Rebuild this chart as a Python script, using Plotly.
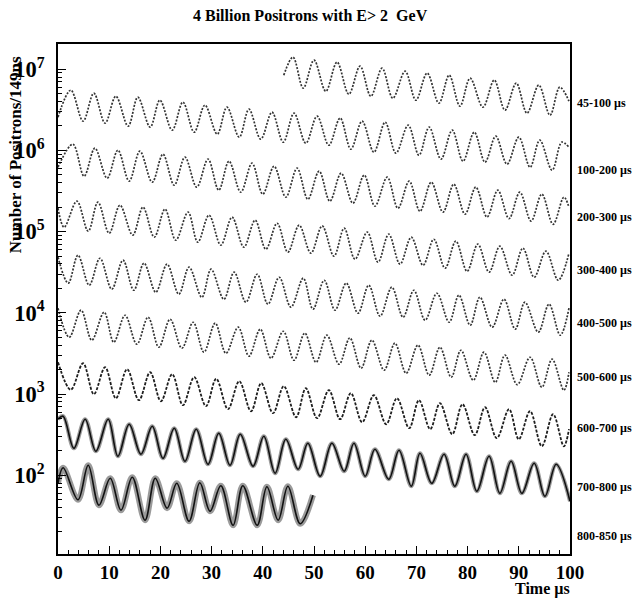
import numpy as np
import plotly.graph_objects as go

# ---- data: extrema of each time window (t in µs, log10 of counts) ----
row_labels = ["45-100 µs", "100-200 µs", "200-300 µs", "300-400 µs", "400-500 µs",
              "500-600 µs", "600-700 µs", "700-800 µs", "800-850 µs"]
label_log_level = [6.581, 5.756, 5.177, 4.525, 3.872, 3.207, 2.579, 1.852, 1.249]

t_45_100 = [44.1, 45.9, 47.9, 50.0, 52.3, 54.5, 56.8, 59.0, 61.1, 63.3, 65.4, 67.8, 69.9, 72.1, 74.4, 76.4,
            78.5, 80.5, 83.0, 85.2, 87.3, 89.5, 91.6, 93.9, 96.1, 98.0, 99.8]
logN_45_100 = [6.926, 7.148, 6.766, 7.111, 6.729, 7.086, 6.692, 7.037, 6.667, 7.012, 6.643, 6.975, 6.618, 6.951,
               6.581, 6.926, 6.544, 6.889, 6.532, 6.865, 6.495, 6.828, 6.458, 6.803, 6.433, 6.778, 6.606]

t_100_200 = [0.0, 2.5, 4.9, 7.0, 9.2, 11.3, 13.7, 15.6, 18.0, 19.9, 22.3, 24.4, 26.6, 28.7, 31.1, 33.0, 35.4,
             37.3, 39.6, 41.8, 44.0, 46.1, 48.4, 50.6, 52.9, 55.1, 57.2, 59.4, 61.7, 63.9, 66.0, 68.4, 70.5,
             72.5, 74.8, 77.0, 79.1, 81.3, 83.4, 85.5, 87.7, 90.0, 92.2, 94.1, 96.5, 98.4, 99.8]
logN_100_200 = [6.409, 6.741, 6.360, 6.704, 6.335, 6.667, 6.298, 6.655, 6.286, 6.618, 6.249, 6.594, 6.224,
                6.557, 6.200, 6.532, 6.163, 6.507, 6.138, 6.470, 6.101, 6.458, 6.089, 6.421, 6.064, 6.397,
                6.015, 6.360, 5.978, 6.347, 5.966, 6.310, 5.941, 6.286, 5.892, 6.249, 5.867, 6.224, 5.855,
                6.175, 5.830, 6.163, 5.793, 6.126, 5.756, 6.101, 6.039]

t_200_300 = [0.0, 2.9, 5.1, 7.2, 9.6, 11.7, 13.9, 16.0, 18.4, 20.5, 22.7, 24.8, 27.1, 29.3, 31.4, 33.4, 35.7,
             37.9, 40.0, 42.2, 44.5, 46.7, 48.8, 51.0, 53.1, 55.3, 57.6, 59.8, 61.9, 64.3, 66.4, 68.6, 70.7,
             72.9, 75.2, 77.3, 79.5, 81.6, 83.8, 85.9, 88.1, 90.2, 92.4, 94.5, 96.7, 98.8, 99.8]
logN_200_300 = [5.793, 6.076, 5.682, 6.027, 5.658, 6.002, 5.621, 5.990, 5.608, 5.953, 5.571, 5.916, 5.547,
                5.892, 5.510, 5.867, 5.485, 5.842, 5.461, 5.805, 5.424, 5.781, 5.399, 5.744, 5.374, 5.719,
                5.350, 5.695, 5.313, 5.670, 5.288, 5.621, 5.250, 5.608, 5.239, 5.584, 5.214, 5.547, 5.180,
                5.510, 5.160, 5.485, 5.130, 5.461, 5.090, 5.424, 5.300]

t_300_400 = [0.0, 1.2, 3.7, 5.9, 7.8, 10.0, 12.1, 14.6, 16.6, 18.8, 20.9, 23.0, 25.4, 27.3, 29.5, 31.8, 34.0,
             36.3, 38.5, 40.6, 42.8, 44.9, 47.1, 49.4, 51.6, 53.9, 55.9, 58.0, 60.4, 62.5, 64.6, 66.8, 69.0,
             71.3, 73.4, 75.6, 77.7, 79.9, 82.0, 84.2, 86.3, 88.7, 90.8, 93.0, 95.3, 97.7, 99.8]
logN_300_400 = [5.288, 5.054, 5.374, 5.005, 5.362, 4.980, 5.325, 4.956, 5.300, 4.931, 5.276, 4.894, 5.239,
                4.869, 5.202, 4.833, 5.177, 4.808, 5.140, 4.783, 5.103, 4.746, 5.079, 4.734, 5.070, 4.697,
                5.042, 4.660, 4.993, 4.623, 4.968, 4.599, 4.931, 4.586, 4.906, 4.549, 4.882, 4.512, 4.845,
                4.500, 4.820, 4.463, 4.796, 4.438, 4.759, 4.401, 4.734]

t_400_500 = [0.0, 2.0, 3.9, 6.1, 8.2, 10.5, 12.7, 14.8, 16.8, 19.1, 21.3, 23.6, 25.6, 28.1, 29.9, 32.4, 34.4,
             36.7, 38.9, 41.0, 43.2, 45.5, 47.9, 49.8, 52.0, 54.1, 56.3, 58.6, 60.7, 62.9, 65.2, 67.4, 69.5,
             71.7, 74.0, 76.4, 78.3, 80.5, 82.4, 84.8, 87.1, 89.3, 91.2, 93.8, 95.9, 98.1, 99.8]
logN_400_500 = [4.685, 4.365, 4.709, 4.340, 4.672, 4.291, 4.648, 4.278, 4.611, 4.254, 4.599, 4.229, 4.562,
                4.192, 4.537, 4.167, 4.500, 4.131, 4.475, 4.106, 4.438, 4.069, 4.426, 4.044, 4.401, 4.032,
                4.365, 3.995, 4.340, 3.958, 4.315, 3.946, 4.278, 3.909, 4.241, 3.884, 4.217, 3.847, 4.192,
                3.823, 4.167, 3.798, 4.131, 3.761, 4.106, 3.724, 4.057]

t_500_600 = [0.0, 2.2, 4.5, 6.6, 9.0, 10.9, 13.1, 15.4, 17.6, 19.7, 21.9, 24.2, 26.4, 28.5, 30.7, 32.8, 35.2,
             37.3, 39.5, 41.6, 44.0, 46.1, 48.2, 50.4, 52.5, 54.9, 57.0, 59.2, 61.3, 63.7, 65.8, 68.0, 70.3,
             72.5, 74.6, 76.8, 78.7, 81.1, 83.2, 85.4, 87.3, 89.7, 92.2, 94.5, 96.5, 98.8, 99.8]
logN_500_600 = [4.057, 3.700, 4.032, 3.663, 4.007, 3.638, 3.970, 3.613, 3.946, 3.576, 3.921, 3.564, 3.884,
                3.515, 3.872, 3.502, 3.823, 3.466, 3.798, 3.441, 3.773, 3.416, 3.749, 3.392, 3.724, 3.367,
                3.690, 3.318, 3.663, 3.293, 3.626, 3.256, 3.601, 3.232, 3.576, 3.207, 3.539, 3.170, 3.515,
                3.145, 3.478, 3.115, 3.453, 3.084, 3.429, 3.047, 3.268]

t_600_700 = [0.0, 2.5, 4.9, 7.0, 9.2, 11.3, 13.5, 15.8, 18.0, 20.1, 22.3, 24.4, 26.6, 28.9, 30.9, 33.2, 35.4,
             37.7, 39.7, 42.0, 44.1, 46.5, 48.4, 50.6, 52.9, 55.1, 57.2, 59.4, 61.7, 64.1, 66.2, 68.6, 70.5,
             72.7, 74.6, 77.0, 79.0, 81.4, 83.4, 85.7, 88.1, 90.0, 92.2, 94.5, 96.7, 98.8, 99.8]
logN_600_700 = [3.392, 3.053, 3.379, 2.998, 3.330, 2.948, 3.305, 2.924, 3.268, 2.911, 3.244, 2.862, 3.207,
                2.850, 3.188, 2.813, 3.158, 2.788, 3.133, 2.764, 3.096, 2.714, 3.071, 2.702, 3.047, 2.690,
                3.010, 2.653, 2.985, 2.628, 2.948, 2.579, 2.924, 2.567, 2.887, 2.505, 2.874, 2.493, 2.837,
                2.456, 2.813, 2.443, 2.788, 2.357, 2.751, 2.357, 2.567]

t_700_800 = [0.0, 1.0, 3.1, 5.3, 7.4, 9.8, 11.7, 13.9, 16.2, 18.4, 20.5, 22.7, 24.8, 27.0, 29.3, 31.4, 33.6,
             35.6, 38.1, 40.2, 42.4, 44.5, 46.9, 48.8, 51.2, 53.5, 55.9, 57.8, 60.0, 61.9, 64.6, 66.6, 69.0,
             70.7, 73.0, 75.4, 77.5, 79.7, 81.8, 84.2, 86.3, 88.5, 90.6, 93.0, 95.1, 97.3, 100.0]
logN_700_800 = [2.690, 2.727, 2.332, 2.690, 2.296, 2.690, 2.234, 2.628, 2.259, 2.603, 2.209, 2.579, 2.172,
                2.567, 2.135, 2.517, 2.123, 2.505, 2.111, 2.480, 2.025, 2.443, 2.074, 2.394, 1.988, 2.394,
                2.049, 2.394, 1.988, 2.320, 1.951, 2.308, 1.865, 2.271, 1.901, 2.259, 1.865, 2.259, 1.803,
                2.234, 1.778, 2.172, 1.778, 2.148, 1.741, 2.135, 1.680]

t_800_850 = [0.0, 1.0, 3.9, 5.9, 8.0, 10.2, 12.3, 14.5, 17.0, 19.0, 21.3, 23.2, 25.6, 27.7, 29.7, 31.8, 34.2,
             36.1, 38.9, 40.8, 43.0, 44.9, 47.3, 49.8]
logN_800_850 = [1.901, 2.092, 1.698, 2.123, 1.631, 1.963, 1.569, 1.975, 1.446, 1.963, 1.594, 1.901, 1.433,
                1.908, 1.557, 1.871, 1.384, 1.871, 1.384, 1.858, 1.446, 1.865, 1.403, 1.754]

x_ticks = [0, 10, 20, 30, 40, 50, 60, 70, 80, 90, 100]

rows_t = [t_45_100, t_100_200, t_200_300, t_300_400, t_400_500, t_500_600, t_600_700, t_700_800, t_800_850]
rows_log = [logN_45_100, logN_100_200, logN_200_300, logN_300_400, logN_400_500,
            logN_500_600, logN_600_700, logN_700_800, logN_800_850]

# styles: clean dotted rows at the top, fuzzier rows at the bottom
dotted = dict(width=1.7, dash="2px,1.5px", color="#333333")
styles = [dotted] * 6 + [
    dict(width=1.8, dash="3px,1.5px", color="#1e1e1e"),
    dict(width=1.6, dash="solid", color="#111111"),
    dict(width=1.6, dash="solid", color="#111111"),
]
# width of the soft band drawn under the noisy rows (statistical fuzz), 0 = none
fuzz = [0, 0, 0, 0, 0, 0, 0, 4, 6]

SERIF = "Liberation Serif"

fig = go.Figure()
for t, lg, st, fz in zip(rows_t, rows_log, styles, fuzz):
    y = 10 ** np.array(lg)
    if fz:
        fig.add_trace(go.Scatter(
            x=t, y=y, mode="lines",
            line=dict(shape="spline", smoothing=1.0, width=fz, color="rgba(30,30,30,0.45)"),
            showlegend=False, hoverinfo="skip",
        ))
    fig.add_trace(go.Scatter(
        x=t, y=y, mode="lines",
        line=dict(shape="spline", smoothing=1.0, **st),
        showlegend=False, hoverinfo="skip",
    ))

annotations = []
for lab, lv in zip(row_labels, label_log_level):
    annotations.append(dict(
        text=lab, xref="paper", yref="y", x=1.01, y=lv, xanchor="left", yanchor="middle",
        showarrow=False, font=dict(family=SERIF, size=12, color="black", weight="bold"),
    ))
annotations += [
    dict(text="4 Billion Positrons with E> 2  GeV", xref="paper", yref="paper", x=0.494, y=1.055,
         xanchor="center", yanchor="middle", showarrow=False,
         font=dict(family=SERIF, size=16, color="black", weight="bold")),
    dict(text="Number of Positrons/149ns", xref="paper", yref="paper", x=-0.084, y=0.784,
         xanchor="center", yanchor="middle", textangle=-90, showarrow=False,
         font=dict(family=SERIF, size=17, color="black", weight="bold")),
    dict(text="Time µs", xref="paper", yref="paper", x=0.946, y=-0.068,
         xanchor="center", yanchor="middle", showarrow=False,
         font=dict(family=SERIF, size=16, color="black", weight="bold")),
]

fig.update_layout(
    width=636, height=598, autosize=False,
    margin=dict(l=58, r=66, t=44, b=44, pad=0),
    paper_bgcolor="white", plot_bgcolor="white",
    annotations=annotations,
    xaxis=dict(
        range=[0, 100], tickvals=x_ticks, ticks="inside", ticklen=8, tickwidth=1.2, tickcolor="black",
        showline=True, linecolor="black", linewidth=1.5, mirror=True, showgrid=False, zeroline=False,
        tickfont=dict(family=SERIF, size=19, color="black", weight="bold"),
        ticklabelstandoff=0,
        minor=dict(dtick=2, ticks="inside", ticklen=4, tickcolor="black", showgrid=False),
    ),
    yaxis=dict(
        type="log", range=[1.03, 7.31], dtick=1, exponentformat="power", showexponent="all",
        ticks="inside", ticklen=8, tickwidth=1.2, tickcolor="black",
        showline=True, linecolor="black", linewidth=1.5, mirror=True, showgrid=False, zeroline=False,
        tickfont=dict(family=SERIF, size=18, color="black", weight="bold"),
        ticklabelstandoff=8,
        minor=dict(ticks="inside", ticklen=4, tickcolor="black", showgrid=False),
    ),
)

fig.write_html("out.html")
